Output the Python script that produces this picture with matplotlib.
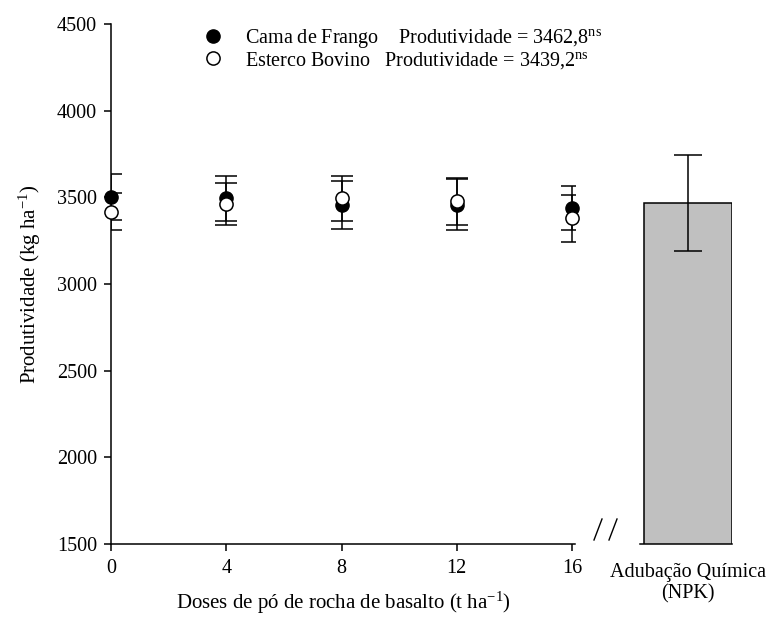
import matplotlib
matplotlib.use("Agg")
import matplotlib.pyplot as plt
from matplotlib.lines import Line2D

plt.rcParams["font.family"] = ["Liberation Serif", "DejaVu Serif"]
plt.rcParams["mathtext.fontset"] = "custom"
plt.rcParams["mathtext.rm"] = "Liberation Serif"
plt.rcParams["mathtext.it"] = "Liberation Serif:italic"

# doses de po de rocha (t/ha)
doses = [0, 4, 8, 12, 16]
cama = [3500, 3495, 3455, 3458, 3440]
cama_err = [133, 130, 140, 146, 127]
esterco = [3417, 3460, 3495, 3478, 3378]
esterco_err = [108, 122, 129, 135, 133]

npk_label = "Adubação Química\n(NPK)"
npk = [3467]
npk_err = [275]

cama_mean = "3462,8"
esterco_mean = "3439,2"

FS = 15
TS = 14.5

fig = plt.figure(figsize=(7.68, 6.17), dpi=100)
ax = fig.add_axes([111 / 768, 73 / 617, 464 / 768, 520 / 617])
ax2 = fig.add_axes([640 / 768, 73 / 617, 92 / 768, 520 / 617])

# barras de erro primeiro, marcadores por cima
ax.errorbar(doses, cama, yerr=cama_err, fmt="none", ecolor="black",
            elinewidth=1.1, capsize=8, capthick=1.1, zorder=2)
ax.errorbar(doses, esterco, yerr=esterco_err, fmt="none", ecolor="black",
            elinewidth=1.1, capsize=8, capthick=1.1, zorder=2)
ax.plot(doses, cama, "o", color="black", markersize=9.5, zorder=3, clip_on=False)
ax.plot(doses, esterco, "o", markerfacecolor="white", markeredgecolor="black",
        markeredgewidth=1.1, markersize=9.5, zorder=4, clip_on=False)

ax.set_xlim(0, 16.1)
ax.set_ylim(1500, 4500)
ax.set_xticks(doses)
ax.set_yticks([1500, 2000, 2500, 3000, 3500, 4000, 4500])
ax.spines["top"].set_visible(False)
ax.spines["right"].set_visible(False)
for s in ["left", "bottom"]:
    ax.spines[s].set_linewidth(1.1)
ax.tick_params(direction="out", length=5, width=1.1, labelsize=TS)
ax.tick_params(axis="x", pad=6)
ax.tick_params(axis="y", pad=5)
ax.set_xlabel("Doses de pó de rocha de basalto (t ha$^{-1}$)", fontsize=FS, labelpad=8)
ax.set_ylabel("Produtividade (kg ha$^{-1}$)", fontsize=FS, labelpad=10)

# legenda
handles = [
    Line2D([], [], marker="o", linestyle="none", color="black", markersize=9.5),
    Line2D([], [], marker="o", linestyle="none", markerfacecolor="white",
           markeredgecolor="black", markeredgewidth=1.1, markersize=9.5),
]
labels = [
    "Cama de Frango    Produtividade = " + cama_mean + "$^{\\mathrm{ns}}$",
    "Esterco Bovino   Produtividade = " + esterco_mean + "$^{\\mathrm{ns}}$",
]
ax.legend(handles, labels, loc="upper left", bbox_to_anchor=(0.18, 1.01),
          frameon=False, fontsize=14.5, handletextpad=1.1, labelspacing=0.0,
          handlelength=1.0, borderaxespad=0)

# barra NPK
ax2.bar([0], npk, width=0.95, color="#c0c0c0", edgecolor="black", linewidth=1.1)
ax2.errorbar([0], npk, yerr=npk_err, fmt="none", ecolor="black",
             elinewidth=1.1, capsize=10, capthick=1.1)
ax2.set_xlim(-0.52, 0.48)
ax2.set_ylim(1500, 4500)
ax2.set_yticks([])
ax2.set_xticks([0])
ax2.set_xticklabels([npk_label], fontsize=TS, linespacing=1.15)
ax2.tick_params(axis="x", length=0, pad=14)
for s in ["top", "right", "left"]:
    ax2.spines[s].set_visible(False)
ax2.spines["bottom"].set_linewidth(1.1)
ax2.patch.set_alpha(0)

# quebra de eixo
for x0 in [594, 609]:
    fig.add_artist(Line2D([x0 / 768, (x0 + 8) / 768], [1 - 540 / 617, 1 - 519 / 617],
                          color="black", linewidth=1.0))

fig.savefig("out.png", dpi=100)
